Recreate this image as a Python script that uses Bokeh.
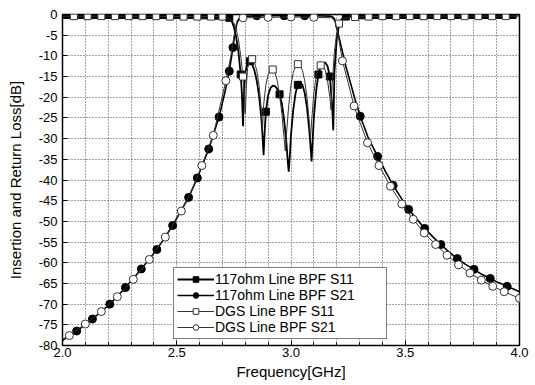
from bokeh.plotting import figure
from bokeh.models import (FixedTicker, PrintfTickFormatter, Legend, LegendItem, Range1d)
from bokeh.embed import file_html
from bokeh.resources import INLINE

# ---------------- data ----------------
s11_117_f = [2.00, 2.10, 2.20, 2.30, 2.40, 2.50, 2.60, 2.65, 2.69, 2.71, 2.73, 2.74, 2.75, 2.76, 2.77,
             2.78, 2.785, 2.79, 2.795, 2.80, 2.81, 2.82, 2.83, 2.84, 2.85, 2.86, 2.87, 2.875, 2.88, 2.885,
             2.89, 2.90, 2.91, 2.92, 2.93, 2.94, 2.95, 2.96, 2.97, 2.98, 2.985, 2.99, 2.995, 3.00, 3.01,
             3.02, 3.03, 3.04, 3.05, 3.06, 3.07, 3.08, 3.085, 3.09, 3.095, 3.10, 3.11, 3.12, 3.13, 3.14,
             3.15, 3.16, 3.17, 3.18, 3.185, 3.19, 3.20, 3.21, 3.22, 3.24, 3.29, 3.40, 3.50, 3.70, 4.00]
s11_117_db = [-0.05, -0.05, -0.05, -0.05, -0.1, -0.1, -0.15, -0.2, -0.3, -0.4, -0.8, -1.5, -3.0, -5.5, -9.0,
              -14.5, -19.0, -27.0, -18.0, -14.0, -11.8, -11.3, -12.0, -13.5, -16.0, -19.5, -25.0, -29.0, -34.0, -28.0,
              -23.5, -19.5, -17.8, -17.2, -17.3, -18.0, -19.3, -21.5, -25.5, -31.0, -35.0, -38.0, -34.0, -29.0, -23.0,
              -19.0, -17.0, -16.5, -17.0, -19.0, -22.5, -28.0, -31.5, -35.5, -30.0, -25.0, -18.5, -14.5, -12.5, -11.8,
              -11.6, -12.5, -15.0, -22.0, -28.0, -14.0, -6.0, -2.5, -1.2, -0.5, -0.2, -0.1, -0.05, -0.05, -0.05]
s11_117_mf = [2.02, 2.08, 2.14, 2.20, 2.26, 2.32, 2.38, 2.44, 2.50, 2.56, 2.62, 2.68, 2.73, 2.78,
              2.82, 2.89, 2.95, 3.03, 3.12, 3.17, 3.24, 3.31, 3.37, 3.43, 3.49, 3.55, 3.61, 3.67,
              3.73, 3.79, 3.85, 3.91, 3.97]
s11_117_mdb = [-0.1, -0.1, -0.1, -0.1, -0.1, -0.1, -0.1, -0.1, -0.1, -0.1, -0.2, -0.3, -0.8, -14.5,
               -11.3, -23.5, -19.3, -17.0, -14.5, -15.0, -0.5, -0.2, -0.1, -0.1, -0.1, -0.1, -0.1, -0.1,
               -0.1, -0.1, -0.1, -0.1, -0.1]

s21_117_f = [2.00, 2.062, 2.131, 2.207, 2.276, 2.345, 2.413, 2.482, 2.552, 2.59, 2.64, 2.685, 2.712, 2.73,
             2.746, 2.756, 2.766, 2.78, 2.81, 2.90, 3.00, 3.10, 3.17, 3.18, 3.19, 3.20, 3.21, 3.225, 3.24,
             3.26, 3.28, 3.303, 3.336, 3.379, 3.414, 3.447, 3.484, 3.515, 3.553, 3.585, 3.622, 3.656, 3.692,
             3.728, 3.764, 3.801, 3.835, 3.872, 3.908, 3.946, 4.00]
s21_117_db = [-78.7, -76.5, -73.6, -70.0, -66.0, -61.5, -56.8, -51.0, -44.2, -39.5, -32.5, -24.8, -18.5, -13.7,
              -8.0, -4.0, -1.5, -0.6, -0.4, -0.3, -0.3, -0.3, -0.4, -0.5, -1.0, -3.0, -5.5, -9.0, -12.5,
              -16.5, -20.5, -24.6, -29.5, -34.3, -38.0, -41.3, -44.5, -47.1, -49.6, -51.7, -53.8, -55.6, -57.4,
              -59.0, -60.4, -61.6, -62.8, -63.8, -64.8, -65.7, -67.0]
s21_117_mf = [2.062, 2.131, 2.207, 2.276, 2.345, 2.413, 2.482, 2.552, 2.59, 2.64, 2.685, 2.73, 2.746,
              2.85, 2.97, 3.06, 3.303, 3.379, 3.447, 3.515, 3.585, 3.656, 3.728, 3.801, 3.872, 3.946]
s21_117_mdb = [-76.5, -73.6, -70.0, -66.0, -61.5, -56.8, -51.0, -44.2, -39.5, -32.5, -24.8, -13.7, -8.0,
               -0.3, -0.3, -0.3, -24.6, -34.3, -41.3, -47.1, -51.7, -55.6, -59.0, -61.6, -63.8, -65.7]

s11_dgs_f = [2.00, 2.30, 2.60, 2.69, 2.71, 2.73, 2.75, 2.76, 2.77, 2.78, 2.79, 2.795, 2.80, 2.805, 2.81,
             2.82, 2.83, 2.84, 2.85, 2.86, 2.87, 2.875, 2.88, 2.89, 2.90, 2.91, 2.92, 2.93, 2.94, 2.95,
             2.96, 2.97, 2.975, 2.98, 2.99, 3.00, 3.01, 3.02, 3.03, 3.04, 3.05, 3.06, 3.07, 3.08, 3.085,
             3.09, 3.10, 3.11, 3.12, 3.13, 3.14, 3.15, 3.16, 3.17, 3.175, 3.18, 3.19, 3.20, 3.21, 3.23,
             3.27, 3.50, 4.00]
s11_dgs_db = [-0.4, -0.4, -0.5, -0.5, -0.6, -1.0, -2.0, -3.5, -6.0, -10.0, -15.0, -19.0, -24.0, -17.0, -13.0,
              -11.2, -10.8, -11.5, -13.5, -17.0, -23.0, -28.0, -22.0, -17.0, -14.5, -13.5, -13.3, -14.0, -16.0, -19.5,
              -24.0, -30.0, -33.0, -29.0, -22.0, -17.0, -14.0, -12.5, -12.0, -12.3, -13.5, -16.0, -20.0, -26.0, -30.0,
              -26.0, -19.0, -15.0, -13.0, -12.3, -12.3, -13.5, -16.0, -20.0, -23.0, -17.0, -9.0, -4.5, -2.2, -1.0,
              -0.6, -0.4, -0.4]
s11_dgs_mf = [2.05, 2.11, 2.17, 2.23, 2.29, 2.35, 2.41, 2.47, 2.53, 2.59, 2.65, 2.70, 2.79,
              2.83, 2.92, 3.03, 3.13, 3.21, 3.28, 3.34, 3.40, 3.46, 3.52, 3.58, 3.64, 3.70,
              3.76, 3.82, 3.88, 3.94]
s11_dgs_mdb = [-0.4, -0.4, -0.4, -0.4, -0.4, -0.4, -0.4, -0.5, -0.5, -0.5, -0.5, -0.5, -15.0,
               -10.8, -13.3, -12.0, -12.3, -2.2, -0.6, -0.5, -0.4, -0.4, -0.4, -0.4, -0.4, -0.4,
               -0.4, -0.4, -0.4, -0.4]

s21_dgs_f = [2.00, 2.03, 2.10, 2.17, 2.24, 2.31, 2.38, 2.45, 2.52, 2.57, 2.61, 2.66, 2.69, 2.715, 2.735,
             2.75, 2.76, 2.775, 2.79, 2.90, 3.00, 3.10, 3.18, 3.195, 3.205, 3.225, 3.25, 3.276, 3.288,
             3.335, 3.385, 3.435, 3.485, 3.535, 3.583, 3.633, 3.683, 3.733, 3.783, 3.833, 3.883, 3.933, 4.00]
s21_dgs_db = [-79.0, -77.6, -74.8, -71.8, -68.2, -64.0, -59.2, -53.8, -47.5, -42.0, -36.5, -29.2, -22.0, -16.0, -10.5,
              -5.5, -2.5, -1.2, -0.8, -0.7, -0.6, -0.7, -0.8, -2.0, -4.5, -11.2, -16.5, -22.1, -24.0,
              -31.0, -36.5, -41.5, -45.8, -49.5, -52.8, -55.6, -58.2, -60.5, -62.5, -64.2, -65.7, -67.0, -68.6]
s21_dgs_mf = [2.03, 2.10, 2.17, 2.24, 2.31, 2.38, 2.45, 2.52, 2.61, 2.66, 2.715, 2.79, 2.90, 3.00,
              3.10, 3.225, 3.276, 3.335, 3.385, 3.435, 3.485, 3.535, 3.583, 3.633, 3.683, 3.733, 3.783, 3.833,
              3.883, 3.933, 4.00]
s21_dgs_mdb = [-77.6, -74.8, -71.8, -68.2, -64.0, -59.2, -53.8, -47.5, -36.5, -29.2, -16.0, -0.8, -0.7, -0.6,
               -0.7, -11.2, -22.1, -31.0, -36.5, -41.5, -45.8, -49.5, -52.8, -55.6, -58.2, -60.5, -62.5, -64.2,
               -65.7, -67.0, -68.6]

labels = ["117ohm Line BPF S11", "117ohm Line BPF S21", "DGS Line BPF S11", "DGS Line BPF S21"]
x_major = [2.0, 2.5, 3.0, 3.5, 4.0]
x_minor = [2.1, 2.2, 2.3, 2.4, 2.6, 2.7, 2.8, 2.9, 3.1, 3.2, 3.3, 3.4, 3.6, 3.7, 3.8, 3.9]
y_major = [0, -5, -10, -15, -20, -25, -30, -35, -40, -45, -50, -55, -60, -65, -70, -75, -80]

FONT = "Liberation Sans"

p = figure(width=535, height=385, output_backend="svg", toolbar_location=None,
           x_range=Range1d(2.0, 4.0), y_range=Range1d(-80, 0),
           min_border_left=62, min_border_right=16, min_border_top=14, min_border_bottom=40)
p.background_fill_color = "white"
p.border_fill_color = "white"
p.outline_line_color = "black"
p.outline_line_width = 1.5

# axes
p.xaxis.ticker = FixedTicker(ticks=x_major, minor_ticks=x_minor)
p.yaxis.ticker = FixedTicker(ticks=y_major)
p.xaxis.formatter = PrintfTickFormatter(format="%.1f")
p.yaxis.formatter = PrintfTickFormatter(format="%d")
for ax in (p.xaxis[0], p.yaxis[0]):
    ax.major_tick_in = 5
    ax.major_tick_out = 0
    ax.minor_tick_in = 3
    ax.minor_tick_out = 0
    ax.axis_line_color = "black"
    ax.major_label_text_font = FONT
    ax.major_label_text_font_size = "13px"
    ax.major_label_text_color = "black"
    ax.axis_label_text_font = FONT
    ax.axis_label_text_font_size = "15px"
    ax.axis_label_text_font_style = "normal"
    ax.axis_label_text_color = "black"
p.yaxis.minor_tick_line_color = None
p.xaxis.axis_label = "Frequency[GHz]"
p.yaxis.axis_label = "Insertion and Return Loss[dB]"
p.xaxis.major_label_standoff = 2
p.yaxis.major_label_standoff = 5
p.xaxis.axis_label_standoff = 3
p.yaxis.axis_label_standoff = 12

# grid
for g in (p.xgrid[0], p.ygrid[0]):
    g.grid_line_color = "#444444"
    g.grid_line_dash = "1 2"
    g.grid_line_width = 1
p.xgrid.minor_grid_line_color = "#444444"
p.xgrid.minor_grid_line_dash = "1 2"

# series
r1l = p.line(s11_117_f, s11_117_db, line_color="black", line_width=1.8)
r1m = p.scatter(s11_117_mf, s11_117_mdb, marker="square", size=7, fill_color="black", line_color="black")
r2l = p.line(s21_117_f, s21_117_db, line_color="black", line_width=1.6)
r2m = p.scatter(s21_117_mf, s21_117_mdb, marker="circle", size=8, fill_color="black", line_color="black")
r3l = p.line(s11_dgs_f, s11_dgs_db, line_color="#333333", line_width=1.0)
r3m = p.scatter(s11_dgs_mf, s11_dgs_mdb, marker="square", size=7, fill_color="white", line_color="#333333")
r4l = p.line(s21_dgs_f, s21_dgs_db, line_color="#333333", line_width=1.0)
r4m = p.scatter(s21_dgs_mf, s21_dgs_mdb, marker="circle", size=8, fill_color="white", line_color="#333333")

legend = Legend(items=[
    LegendItem(label=labels[0], renderers=[r1l, r1m]),
    LegendItem(label=labels[1], renderers=[r2l, r2m]),
    LegendItem(label=labels[2], renderers=[r3l, r3m]),
    LegendItem(label=labels[3], renderers=[r4l, r4m]),
], location=(111, 6))
legend.border_line_color = "black"
legend.border_line_width = 1
legend.background_fill_color = "white"
legend.background_fill_alpha = 1.0
legend.label_text_font = FONT
legend.label_text_font_size = "14px"
legend.label_text_color = "black"
legend.label_height = 14
legend.glyph_height = 14
legend.glyph_width = 37
legend.label_standoff = 1
legend.spacing = 0
legend.padding = 3
legend.margin = 0
legend.label_width = 168
p.add_layout(legend)

open("out.html", "w").write(file_html(p, INLINE))
